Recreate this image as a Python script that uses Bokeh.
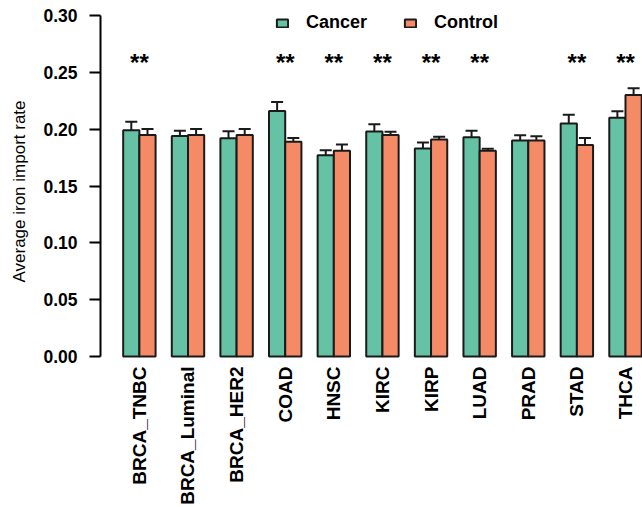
import math
from bokeh.plotting import figure
from bokeh.models import (Range1d, FixedTicker, Whisker, TeeHead, ColumnDataSource,
                          Legend, LegendItem, NumeralTickFormatter)
from bokeh.embed import file_html
from bokeh.resources import INLINE
from bokeh.core.properties import value

# ---- data ----
categories = ["BRCA_TNBC", "BRCA_Luminal", "BRCA_HER2", "COAD", "HNSC", "KIRC",
              "KIRP", "LUAD", "PRAD", "STAD", "THCA"]
cancer_mean = [0.199, 0.194, 0.192, 0.216, 0.177, 0.198, 0.183, 0.193, 0.190, 0.205, 0.210]
cancer_err = [0.0076, 0.0047, 0.0062, 0.0080, 0.0044, 0.0063, 0.0053, 0.0057, 0.0047, 0.0078, 0.0057]
control_mean = [0.195, 0.195, 0.195, 0.189, 0.181, 0.195, 0.191, 0.181, 0.190, 0.186, 0.230]
control_err = [0.0051, 0.0051, 0.0051, 0.0032, 0.0055, 0.0027, 0.0023, 0.0018, 0.0038, 0.0062, 0.0060]
significance = ["**", "", "", "**", "**", "**", "**", "**", "", "**", "**"]
star_y = 0.259
y_ticks = [0.0, 0.05, 0.10, 0.15, 0.20, 0.25, 0.30]

CANCER_COLOR = "#66C2A5"
CONTROL_COLOR = "#F58A66"
EDGE = "#1a1a1a"
FONT = "Liberation Sans"

n = len(categories)
group_center = [3 * i + 2 for i in range(n)]
cancer_x = [c - 0.5 for c in group_center]
control_x = [c + 0.5 for c in group_center]

src_c = ColumnDataSource(dict(x=cancer_x, top=cancer_mean,
                              upper=[m + e for m, e in zip(cancer_mean, cancer_err)],
                              lower=[m - e for m, e in zip(cancer_mean, cancer_err)]))
src_k = ColumnDataSource(dict(x=control_x, top=control_mean,
                              upper=[m + e for m, e in zip(control_mean, control_err)],
                              lower=[m - e for m, e in zip(control_mean, control_err)]))

p = figure(width=642, height=507, output_backend="svg", toolbar_location=None,
           x_range=Range1d(-0.40, 33.05), y_range=Range1d(-0.0228, 0.3132),
           min_border_left=100, min_border_right=0, min_border_top=0, min_border_bottom=124)
p.outline_line_color = None
p.xgrid.visible = False
p.ygrid.visible = False
p.background_fill_color = "white"

r_c = p.vbar(x="x", top="top", bottom=0, width=1, source=src_c,
             fill_color=CANCER_COLOR, line_color=EDGE, line_width=2)
r_k = p.vbar(x="x", top="top", bottom=0, width=1, source=src_k,
             fill_color=CONTROL_COLOR, line_color=EDGE, line_width=2)

for s in (src_c, src_k):
    w = Whisker(source=s, base="x", upper="upper", lower="lower",
                line_color=EDGE, line_width=2,
                upper_head=TeeHead(size=12, line_width=2, line_color=EDGE),
                lower_head=TeeHead(size=12, line_width=2, line_color=EDGE))
    p.add_layout(w)

star_x = [c for c, s in zip(group_center, significance) if s]
star_t = [s for s in significance if s]
p.text(x=star_x, y=[star_y] * len(star_x), text=star_t,
       text_font=value(FONT), text_font_style="bold", text_font_size="24px",
       text_align="center", text_baseline="alphabetic", text_color="black")

# y axis
ya = p.yaxis[0]
ya.ticker = FixedTicker(ticks=y_ticks)
ya.bounds = (0, 0.30)
ya.formatter = NumeralTickFormatter(format="0.00")
ya.minor_tick_line_color = None
ya.major_tick_in = 0
ya.major_tick_out = 11
ya.major_tick_line_width = 2
ya.axis_line_width = 2
ya.axis_line_color = "black"
ya.major_tick_line_color = "black"
ya.major_label_standoff = 12
ya.major_label_text_font = FONT
ya.major_label_text_font_style = "bold"
ya.major_label_text_font_size = "17.5px"
ya.major_label_text_color = "black"
ya.axis_label = "Average iron import rate"
ya.axis_label_text_font = FONT
ya.axis_label_text_font_style = "normal"
ya.axis_label_text_font_size = "17px"
ya.axis_label_text_color = "black"
ya.axis_label_standoff = 11

# x axis (labels start just below the zero line)
xa = p.xaxis[0]
xa.ticker = FixedTicker(ticks=group_center)
xa.major_label_overrides = {c: name for c, name in zip(group_center, categories)}
xa.major_label_orientation = math.pi / 2
xa.axis_line_color = None
xa.major_tick_line_color = None
xa.minor_tick_line_color = None
xa.major_tick_out = 0
xa.major_tick_in = 0
xa.major_label_standoff = -16
xa.major_label_text_font = FONT
xa.major_label_text_font_style = "bold"
xa.major_label_text_font_size = "19px"
xa.major_label_text_color = "black"

legend = Legend(items=[LegendItem(label="Cancer", renderers=[r_c]),
                       LegendItem(label="Control", renderers=[r_k])],
                orientation="horizontal", location=(175, 349),
                glyph_width=14, glyph_height=10, label_standoff=17, spacing=36,
                padding=0, margin=0, border_line_color=None, background_fill_alpha=0,
                label_text_font=FONT, label_text_font_style="bold",
                label_text_font_size="18px", label_text_color="black")
p.add_layout(legend)

open("out.html", "w").write(file_html(p, INLINE))
